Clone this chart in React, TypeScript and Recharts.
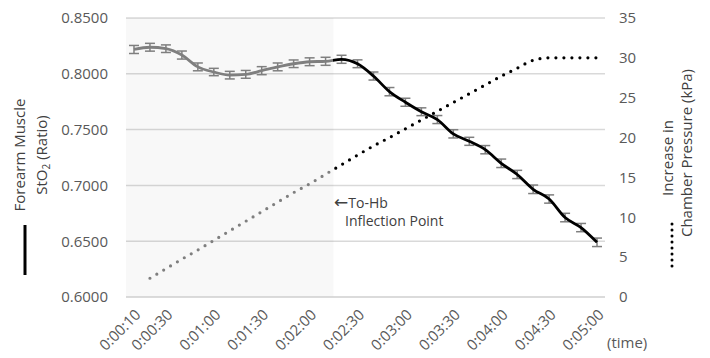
import {
  ComposedChart,
  Line,
  XAxis,
  YAxis,
  CartesianGrid,
  ErrorBar,
  ReferenceArea,
} from "recharts"

const TIMES = [
  "0:00:10", "0:00:20", "0:00:30", "0:00:40", "0:00:50", "0:01:00",
  "0:01:10", "0:01:20", "0:01:30", "0:01:40", "0:01:50", "0:02:00",
  "0:02:10", "0:02:20", "0:02:30", "0:02:40", "0:02:50", "0:03:00",
  "0:03:10", "0:03:20", "0:03:30", "0:03:40", "0:03:50", "0:04:00",
  "0:04:10", "0:04:20", "0:04:30", "0:04:40", "0:04:50", "0:05:00",
]

const TICK_LABELS = [
  "0:00:10", "0:00:30", "0:01:00", "0:01:30", "0:02:00", "0:02:30",
  "0:03:00", "0:03:30", "0:04:00", "0:04:30", "0:05:00",
]

// forearm muscle StO2 (ratio)
const STO2 = [
  0.8218, 0.8238, 0.8225, 0.8168, 0.8062, 0.8016,
  0.7988, 0.7995, 0.8028, 0.8062, 0.8090, 0.8108,
  0.8112, 0.8130, 0.8090, 0.7980, 0.7840, 0.7745,
  0.7660, 0.7590, 0.7462, 0.7395, 0.7320, 0.7198,
  0.7098, 0.6965, 0.6878, 0.6712, 0.6622, 0.6490,
]

const STO2_ERR = [
  0.0036, 0.0035, 0.0034, 0.0036, 0.0035, 0.0033,
  0.0034, 0.0035, 0.0036, 0.0035, 0.0034, 0.0035,
  0.0036, 0.0036, 0.0035, 0.0036, 0.0037, 0.0036,
  0.0035, 0.0036, 0.0037, 0.0036, 0.0037, 0.0038,
  0.0037, 0.0038, 0.0037, 0.0038, 0.0037, 0.0038,
]

// increase in chamber pressure (kPa)
const PRESSURE = [
  null, 2.35, 3.55, 4.75, 5.9, 7.1,
  8.3, 9.5, 10.7, 11.9, 13.1, 14.2,
  15.4, 16.6, 17.8, 18.95, 20.0, 21.1,
  22.2, 23.3, 24.4, 25.5, 26.6, 27.7,
  28.7, 29.7, 30.0, 30.0, 30.0, 30.0,
]

const LEFT_TICKS = [0.6, 0.65, 0.7, 0.75, 0.8, 0.85]
const RIGHT_TICKS = [0, 5, 10, 15, 20, 25, 30, 35]

const FONT = "'Open Sans', 'Noto Sans', sans-serif"
const TICK_COLOR = "#595959"

const chartData = TIMES.map((t, i) => ({
  time: t,
  sto2: STO2[i],
  err: STO2_ERR[i],
  pressure: PRESSURE[i],
}))

const TimeTick = ({ x, y, payload }: any) => {
  const tx = x + 4
  const ty = y + 7
  return (
    <text
      x={tx}
      y={ty}
      dy="0.35em"
      transform={`rotate(-45 ${tx} ${ty})`}
      textAnchor="end"
      fill={TICK_COLOR}
      fontSize={15}
      fontFamily={FONT}
    >
      {payload.value}
    </text>
  )
}

export default function App() {
  const tickStyle = { fill: TICK_COLOR, fontSize: 15, fontFamily: FONT }

  return (
    <div style={{ position: "fixed", left: 0, top: 0, width: 710, height: 358, background: "#fff" }}>
      <ComposedChart
        width={710}
        height={358}
        data={chartData}
        margin={{ top: 18, right: 0, bottom: 0, left: 0 }}
      >
        <defs>
          {/* grey inside the baseline window, black after the inflection point */}
          <linearGradient id="phase" gradientUnits="userSpaceOnUse" x1="0" y1="0" x2="710" y2="0">
            <stop offset="0.469" stopColor="#7f7f7f" />
            <stop offset="0.469" stopColor="#000000" />
          </linearGradient>
        </defs>
        <CartesianGrid yAxisId="left" vertical={false} stroke="#d9d9d9" strokeWidth={1.5} />
        <ReferenceArea
          yAxisId="left"
          x1="0:00:10"
          x2="0:02:10"
          fill="#000"
          fillOpacity={0.028}
          stroke="none"
        />
        <XAxis
          dataKey="time"
          scale="band"
          ticks={TICK_LABELS}
          interval={0}
          height={61}
          tick={<TimeTick />}
          tickLine={false}
          axisLine={{ stroke: "#d9d9d9", strokeWidth: 1.5 }}
        />
        <YAxis
          yAxisId="left"
          width={126}
          domain={[0.6, 0.85]}
          ticks={LEFT_TICKS}
          tickFormatter={(v: number) => v.toFixed(4)}
          tick={tickStyle}
          tickLine={false}
          axisLine={false}
          tickMargin={12}
        />
        <YAxis
          yAxisId="right"
          orientation="right"
          width={105}
          domain={[0, 35]}
          ticks={RIGHT_TICKS}
          tick={{ ...tickStyle, textAnchor: "start" }}
          tickLine={false}
          axisLine={false}
          tickMargin={8}
        />
        <Line
          yAxisId="right"
          dataKey="pressure"
          type="monotone"
          stroke="url(#phase)"
          strokeWidth={3.2}
          strokeDasharray="0 8"
          strokeLinecap="round"
          dot={false}
          isAnimationActive={false}
        />
        <Line
          yAxisId="left"
          dataKey="sto2"
          type="monotone"
          stroke="url(#phase)"
          strokeWidth={2.8}
          dot={false}
          isAnimationActive={false}
        >
          <ErrorBar dataKey="err" direction="y" width={5} stroke="#7f7f7f" strokeWidth={1.5} />
        </Line>
      </ComposedChart>

      <svg
        width={710}
        height={358}
        style={{ position: "absolute", left: 0, top: 0, pointerEvents: "none" }}
        fontFamily={FONT}
        fontSize={15}
      >
        {/* left axis title */}
        <text x={20} y={155} dy="0.35em" textAnchor="middle" transform="rotate(-90 20 155)" fill="#404040">
          Forearm Muscle
        </text>
        <text x={42} y={155} dy="0.35em" textAnchor="middle" transform="rotate(-90 42 155)" fill="#404040">
          StO<tspan fontSize={10} dy={3}>2</tspan>
          <tspan dy={-3}> (Ratio)</tspan>
        </text>
        <line x1={25} y1={225} x2={25} y2={275} stroke="#000" strokeWidth={3} />

        {/* right axis title */}
        <text x={668} y={158} dy="0.35em" textAnchor="middle" transform="rotate(-90 668 158)" fill="#404040">
          Increase in
        </text>
        <text x={687} y={153} dy="0.35em" textAnchor="middle" transform="rotate(-90 687 153)" fill="#404040">
          Chamber Pressure (kPa)
        </text>
        <line
          x1={672}
          y1={224}
          x2={672}
          y2={272}
          stroke="#000"
          strokeWidth={3}
          strokeDasharray="0 6"
          strokeLinecap="round"
        />

        {/* annotation */}
        <text x={334} y={208} fontSize={14} fill="#404040">
          <tspan fontFamily="'DejaVu Sans', sans-serif" fontSize={17}>←</tspan>To-Hb
        </text>
        <text x={345} y={226} fontSize={14} fill="#404040">Inflection Point</text>

        <text x={607} y={348} fill={TICK_COLOR}>(time)</text>
      </svg>
    </div>
  )
}
